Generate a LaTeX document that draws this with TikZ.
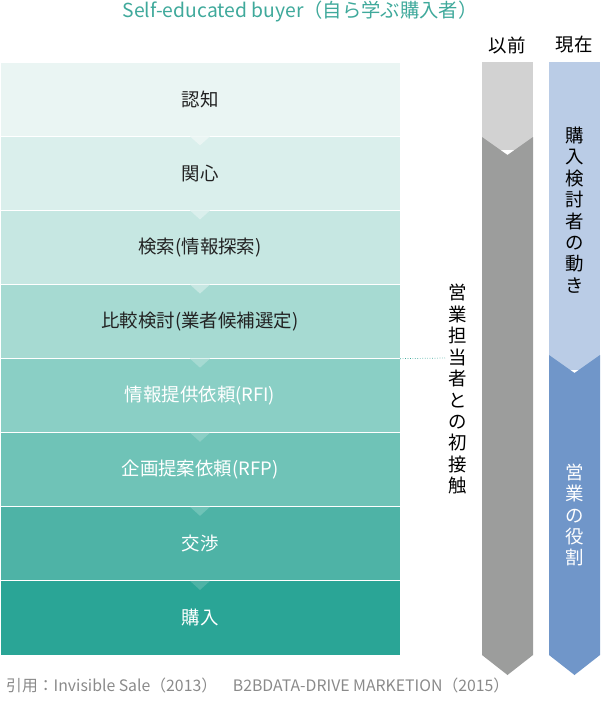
\documentclass[tikz,border=0pt]{standalone}
\usepackage{fontspec}
\setmainfont{Noto Sans CJK JP}
\usetikzlibrary{positioning}
\definecolor{titleteal}{HTML}{3FA99B}
\definecolor{textdark}{HTML}{222222}
\definecolor{footgray}{HTML}{8A8A8A}
\definecolor{oldlight}{HTML}{D2D2D2}
\definecolor{olddark}{HTML}{9C9D9C}
\definecolor{nowlight}{HTML}{BACCE6}
\definecolor{nowdark}{HTML}{7096C9}
\definecolor{stepA}{HTML}{EAF5F3}
\definecolor{stepB}{HTML}{DAEFEC}
\definecolor{stepC}{HTML}{C6E7E2}
\definecolor{stepD}{HTML}{A6DAD2}
\definecolor{stepE}{HTML}{8ACFC5}
\definecolor{stepF}{HTML}{6FC3B7}
\definecolor{stepG}{HTML}{4EB3A6}
\definecolor{stepH}{HTML}{2AA596}
\tikzset{
  stepbox/.style={minimum width=8cm, minimum height=1.482cm, inner sep=0pt, draw=white, line width=0.3pt, font=\fontsize{10.5}{12}\selectfont},
  vlabel/.style={align=center, font=\fontsize{10.5}{12.2}\selectfont, inner sep=0pt}
}
\begin{document}
\begin{tikzpicture}[x=0.02cm, y=-0.02cm]
\useasboundingbox (0,0) rectangle (600,704);
% title
\node[text=titleteal, font=\fontsize{11}{13}\selectfont] (title) at (300,11) {Self-educated buyer（自ら学ぶ購入者）};
% steps
\foreach \lab/\col/\tc [count=\i] in {認知/stepA/textdark, 関心/stepB/textdark, 検索(情報探索)/stepC/textdark, 比較検討(業者候補選定)/stepD/textdark, 情報提供依頼(RFI)/stepE/white, 企画提案依頼(RFP)/stepF/white, 交渉/stepG/white, 購入/stepH/white}
  \node[stepbox, fill=\col, text=\tc] (s\i) at (200,{62+74.1*(\i-0.5)}) {\lab};
\foreach \col [count=\i] in {stepA,stepB,stepC,stepD,stepE,stepF,stepG}
  \fill[\col] ([xshift=-0.2cm]s\i.south) -- ([xshift=0.2cm]s\i.south) -- ([yshift=-0.18cm]s\i.south) -- cycle;
% first contact
\coordinate (contact) at (445,358);
\draw[titleteal, densely dotted, thin] (s4.south east) -- (contact);
\node[vlabel, anchor=north] (first) at (458,284) {営\\業\\担\\当\\者\\と\\の\\初\\接\\触};
% before
\node[font=\fontsize{10.5}{12}\selectfont] (before) at (507,45) {以前};
\fill[oldlight] (482,62) rectangle (533,150);
\fill[olddark] (482,137) -- (507.5,155) -- (533,137) -- (533,655) -- (507.5,675) -- (482,655) -- cycle;
% now
\node[font=\fontsize{10.5}{12}\selectfont] (now) at (574,45) {現在};
\fill[nowlight] (549,62) rectangle (600,370);
\fill[nowdark] (549,355) -- (574.5,373) -- (600,355) -- (600,655) -- (574.5,675) -- (549,655) -- cycle;
\node[vlabel] (buyer) at (574.5,210) {購\\入\\検\\討\\者\\の\\動\\き};
\node[vlabel, text=white] (sales) at (574.5,515) {営\\業\\の\\役\\割};
% source
\node[anchor=west, text=footgray, font=\fontsize{9}{11}\selectfont] (source) at (0,685) {引用：Invisible Sale（2013）\quad B2BDATA-DRIVE MARKETION（2015）};
\end{tikzpicture}
\end{document}
